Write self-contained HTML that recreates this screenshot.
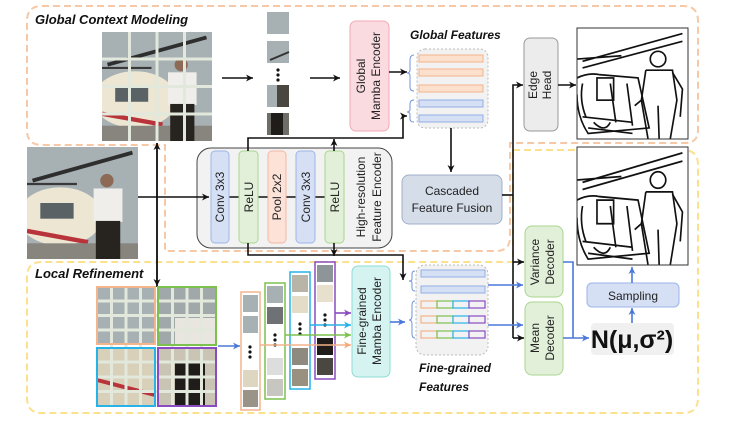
<!DOCTYPE html>
<html><head><meta charset="utf-8"><style>
html,body{margin:0;padding:0;background:#fff;}
svg{display:block;}
text{font-family:"Liberation Sans","DejaVu Sans",sans-serif;}
</style></head><body>
<svg width="747" height="421" viewBox="0 0 747 421" xmlns="http://www.w3.org/2000/svg">
<defs>
<pattern id="photo" patternUnits="objectBoundingBox" patternContentUnits="objectBoundingBox" width="1" height="1">
<rect width="1" height="1" fill="#a7b0b3"/>
<path d="M0.05,0.3 L0.95,0.05" stroke="#2e2e2e" stroke-width="0.035"/>
<path d="M0,0.33 L0.45,0.33" stroke="#3a3a3a" stroke-width="0.02"/>
<ellipse cx="0.3" cy="0.62" rx="0.38" ry="0.26" fill="#ece6d3"/>
<rect x="0.12" y="0.5" width="0.3" height="0.14" fill="#5a6265"/>
<path d="M0,0.75 L0.55,0.85" stroke="#b8333a" stroke-width="0.04"/>
<rect x="0" y="0.86" width="1" height="0.14" fill="#87857e"/>
<circle cx="0.72" cy="0.3" r="0.06" fill="#8c6a55"/>
<rect x="0.6" y="0.37" width="0.26" height="0.3" fill="#efeeea"/>
<rect x="0.62" y="0.66" width="0.22" height="0.34" fill="#27231f"/>
</pattern>
<pattern id="edge" patternUnits="objectBoundingBox" patternContentUnits="objectBoundingBox" width="1" height="1">
<rect width="1" height="1" fill="#fff"/>
<g fill="none" stroke="#111" stroke-width="0.015">
<path d="M0.05,0.3 L0.95,0.05 M0.05,0.36 L0.95,0.12 M0,0.28 L0.4,0.25"/>
<path d="M0,0.45 Q0.1,0.4 0.2,0.42 L0.55,0.45 L0.65,0.9 L0.1,0.95 Q0,0.8 0,0.6"/>
<path d="M0.05,0.5 Q0.02,0.65 0.08,0.8 M0.3,0.5 L0.35,0.85 M0.45,0.5 L0.5,0.88"/>
<rect x="0.18" y="0.45" width="0.15" height="0.2"/>
<circle cx="0.73" cy="0.28" r="0.07"/>
<path d="M0.62,0.38 L0.86,0.38 L0.9,0.65 L0.84,1 M0.62,0.38 L0.58,0.65 L0.64,1 M0.73,0.7 L0.74,1"/>
<path d="M0.86,0.4 L0.95,0.55 L0.93,0.8 M0.58,0.65 L0.52,0.7"/>
<path d="M0.05,0.8 L0.5,0.85 M0.1,0.9 L0.5,0.95 M0.15,0.85 Q0.25,0.95 0.3,0.85"/>
</g>
</pattern>
<marker id="ab" markerWidth="8" markerHeight="8" refX="7" refY="4" orient="auto" markerUnits="userSpaceOnUse"><path d="M0,0.5 L7,4 L0,7.5 L2,4z" fill="#111"/></marker>
<marker id="abl" markerWidth="8" markerHeight="8" refX="7" refY="4" orient="auto" markerUnits="userSpaceOnUse"><path d="M0,0.5 L7,4 L0,7.5 L2,4z" fill="#4a78d8"/></marker>
<marker id="ao" markerWidth="8" markerHeight="8" refX="7" refY="4" orient="auto" markerUnits="userSpaceOnUse"><path d="M0,0.5 L7,4 L0,7.5 L2,4z" fill="#f4a97a"/></marker>
<marker id="ag" markerWidth="8" markerHeight="8" refX="7" refY="4" orient="auto" markerUnits="userSpaceOnUse"><path d="M0,0.5 L7,4 L0,7.5 L2,4z" fill="#7cc04e"/></marker>
<marker id="ac" markerWidth="8" markerHeight="8" refX="7" refY="4" orient="auto" markerUnits="userSpaceOnUse"><path d="M0,0.5 L7,4 L0,7.5 L2,4z" fill="#27b2e8"/></marker>
<marker id="ap" markerWidth="8" markerHeight="8" refX="7" refY="4" orient="auto" markerUnits="userSpaceOnUse"><path d="M0,0.5 L7,4 L0,7.5 L2,4z" fill="#8a4bc0"/></marker>
</defs>

<path d="M42,6 H683 Q698,6 698,21 V130 Q698,143 685,143 H510 V237 Q510,251 496,251 H165 V145 H42 Q27,145 27,130 V21 Q27,6 42,6Z" fill="none" stroke="#f7c8a6" stroke-width="2" stroke-dasharray="7,4"/>
<path d="M513,150 H683 Q698,150 698,165 V398 Q698,413 683,413 H42 Q27,413 27,398 V277 Q27,262 42,262 H513Z" fill="none" stroke="#fbe18c" stroke-width="2" stroke-dasharray="7,4"/>

<text x="35" y="24" font-size="13" font-weight="bold" font-style="italic" fill="#111">Global Context Modeling</text>
<text x="35" y="278" font-size="13" font-weight="bold" font-style="italic" fill="#111">Local Refinement</text>

<rect x="27" y="147" width="111" height="112" fill="url(#photo)"/>
<rect x="102" y="32" width="110" height="109" fill="url(#photo)"/>
<g stroke="#e2e8dc" stroke-width="3">
<line x1="129.5" y1="32" x2="129.5" y2="141"/><line x1="157" y1="32" x2="157" y2="141"/><line x1="184.5" y1="32" x2="184.5" y2="141"/>
<line x1="102" y1="59" x2="212" y2="59"/><line x1="102" y1="86.5" x2="212" y2="86.5"/><line x1="102" y1="114" x2="212" y2="114"/>
</g>
<line x1="222" y1="78" x2="253" y2="78" stroke="#111" stroke-width="1.6" marker-end="url(#ab)"/>
<rect x="267" y="12" width="22" height="22" fill="#a7b0b3"/>
<rect x="267" y="41" width="22" height="22" fill="#a7b0b3"/><path d="M270,60 L289,52" stroke="#333" stroke-width="2"/>
<g fill="#111"><circle cx="278" cy="70" r="1.6"/><circle cx="278" cy="75" r="1.6"/><circle cx="278" cy="80" r="1.6"/></g>
<rect x="267" y="85" width="22" height="22" fill="#4a4640"/><rect x="267" y="85" width="10" height="22" fill="#a7b0b3"/>
<rect x="267" y="113" width="22" height="22" fill="#6f6d68"/><rect x="271" y="113" width="12" height="22" fill="#1f1c19"/>
<line x1="310" y1="78" x2="340" y2="78" stroke="#111" stroke-width="1.6" marker-end="url(#ab)"/>

<rect x="350" y="21" width="39" height="110" rx="6" fill="#fadbe0" stroke="#f2aab6"/>
<text transform="translate(365,76) rotate(-90)" text-anchor="middle" font-size="12" fill="#222">Global</text>
<text transform="translate(380,76) rotate(-90)" text-anchor="middle" font-size="12" fill="#222">Mamba Encoder</text>
<line x1="389" y1="72" x2="407" y2="72" stroke="#111" stroke-width="1.6" marker-end="url(#ab)"/>

<text x="410" y="39" font-size="12" font-weight="bold" font-style="italic" fill="#111">Global Features</text>
<rect x="417" y="49" width="71" height="79" rx="8" fill="#f2f2f2" stroke="#bbb" stroke-dasharray="2,2"/>
<g fill="#fbe0cd" stroke="#f4b48c"><rect x="419" y="55" width="64" height="7"/><rect x="419" y="69" width="64" height="7"/><rect x="419" y="85" width="64" height="7"/></g>
<g fill="#d6e0f5" stroke="#92aee6"><rect x="419" y="100" width="64" height="7"/><rect x="419" y="115" width="64" height="7"/></g>
<path d="M414,55 Q410,55 410,60 V70 Q410,73 407,73 Q410,73 410,76 V87 Q410,91 414,91" fill="none" stroke="#6f93db" stroke-width="1"/>
<path d="M414,100 Q410,100 410,104 V109 Q410,112 407,112 Q410,112 410,115 V119 Q410,122 414,122" fill="none" stroke="#6f93db" stroke-width="1"/>
<line x1="451" y1="128" x2="451" y2="172" stroke="#111" stroke-width="1.6" marker-end="url(#ab)"/>

<rect x="524" y="38" width="34" height="93" rx="6" fill="#ececec" stroke="#999"/>
<text transform="translate(537,85) rotate(-90)" text-anchor="middle" font-size="12" fill="#222">Edge</text>
<text transform="translate(551,85) rotate(-90)" text-anchor="middle" font-size="12" fill="#222">Head</text>
<line x1="558" y1="85" x2="576" y2="85" stroke="#111" stroke-width="1.6" marker-end="url(#ab)"/>
<rect x="577" y="28" width="111" height="111" fill="url(#edge)" stroke="#333"/>
<rect x="577" y="147" width="111" height="118" fill="url(#edge)" stroke="#333"/>

<rect x="402" y="175" width="100" height="49" rx="7" fill="#d5dde9" stroke="#9fb0c8"/>
<text x="452" y="195" text-anchor="middle" font-size="12" fill="#222">Cascaded</text>
<text x="452" y="212" text-anchor="middle" font-size="12" fill="#222">Feature Fusion</text>
<path d="M502,195 H513" stroke="#111" stroke-width="1.6" fill="none"/>
<path d="M513,338 V85 H523" stroke="#111" stroke-width="1.6" fill="none" marker-end="url(#ab)"/>
<line x1="513" y1="262" x2="524" y2="262" stroke="#111" stroke-width="1.6" marker-end="url(#ab)"/>
<line x1="513" y1="338" x2="524" y2="338" stroke="#111" stroke-width="1.6" marker-end="url(#ab)"/>

<rect x="197" y="148" width="195" height="100" rx="14" fill="#f2f2f2" stroke="#444"/>
<line x1="138" y1="197" x2="209" y2="197" stroke="#111" stroke-width="1.6" marker-end="url(#ab)"/>
<line x1="211" y1="197" x2="344" y2="197" stroke="#111" stroke-width="1.4"/>
<g font-size="12" fill="#222" text-anchor="middle">
<rect x="211" y="151" width="18" height="92" rx="4" fill="#d6e0f5" stroke="#9db5e8"/>
<text transform="translate(224,197) rotate(-90)">Conv 3x3</text>
<rect x="239" y="151" width="19" height="92" rx="4" fill="#e2f0d9" stroke="#a9d68f"/>
<text transform="translate(253,197) rotate(-90)">ReLU</text>
<rect x="268" y="151" width="18" height="92" rx="4" fill="#fde2d8" stroke="#f4b8a4"/>
<text transform="translate(281,197) rotate(-90)">Pool 2x2</text>
<rect x="296" y="151" width="19" height="92" rx="4" fill="#d6e0f5" stroke="#9db5e8"/>
<text transform="translate(310,197) rotate(-90)">Conv 3x3</text>
<rect x="325" y="151" width="19" height="92" rx="4" fill="#e2f0d9" stroke="#a9d68f"/>
<text transform="translate(339,197) rotate(-90)">ReLU</text>
<text transform="translate(365,197) rotate(-90)">High-resolution</text>
<text transform="translate(381,197) rotate(-90)">Feature Encoder</text>
</g>
<path d="M248,151 V138 H403 V116 H407" fill="none" stroke="#111" stroke-width="1.6" marker-end="url(#ab)"/>
<line x1="334" y1="151" x2="334" y2="139" stroke="#111" stroke-width="1.6" marker-end="url(#ab)"/>
<path d="M248,243 V255 H403 V280" fill="none" stroke="#111" stroke-width="1.6" marker-end="url(#ab)"/>
<line x1="334" y1="243" x2="334" y2="256" stroke="#111" stroke-width="1.6" marker-end="url(#ab)"/>
<line x1="157" y1="287" x2="157" y2="143" stroke="#111" stroke-width="1.6" marker-end="url(#ab)"/>
<line x1="157" y1="143" x2="157" y2="286" stroke="#111" stroke-width="1.6" marker-end="url(#ab)"/>

<rect x="97" y="287" width="58" height="57" fill="#a7b0b3"/>
<rect x="158" y="287" width="58" height="58" fill="#a0a8aa"/><rect x="175" y="318" width="41" height="27" fill="#e8e6de"/>
<rect x="97" y="348" width="58" height="58" fill="#d8d0b8"/><path d="M97,380 L155,395" stroke="#b8333a" stroke-width="4"/>
<rect x="158" y="348" width="58" height="58" fill="#c9c4b4"/><rect x="175" y="362" width="30" height="44" fill="#1f1c19"/>
<g stroke="#e2e8dc" stroke-width="3">
<path d="M111.5,287V406M126,287V406M140.5,287V406M172.5,287V406M187,287V406M201.5,287V406"/>
<path d="M97,301H216M97,315.5H216M97,330H216M97,362H216M97,377H216M97,391.5H216"/>
</g>
<rect x="97" y="287" width="58" height="57" fill="none" stroke="#f4b48c" stroke-width="2"/>
<rect x="158" y="287" width="58" height="58" fill="none" stroke="#7cc04e" stroke-width="2"/>
<rect x="97" y="348" width="58" height="58" fill="none" stroke="#27b2e8" stroke-width="2"/>
<rect x="158" y="348" width="58" height="58" fill="none" stroke="#8a4bc0" stroke-width="2"/>
<line x1="218" y1="346" x2="240" y2="346" stroke="#4a78d8" stroke-width="1.6" marker-end="url(#abl)"/>

<rect x="241" y="292" width="19" height="118" fill="#fff" stroke="#f4b48c" stroke-width="1.5"/>
<rect x="243" y="295" width="15" height="17" fill="#a7b0b3"/><rect x="243" y="316" width="15" height="17" fill="#a7b0b3"/>
<rect x="243" y="370" width="15" height="17" fill="#ddd6c0"/><rect x="243" y="390" width="15" height="17" fill="#9a9488"/>
<rect x="265" y="283" width="20" height="116" fill="#fff" stroke="#7cc04e" stroke-width="1.5"/>
<rect x="267" y="286" width="16" height="17" fill="#a7b0b3"/><rect x="267" y="307" width="16" height="17" fill="#6f7275"/>
<rect x="267" y="358" width="16" height="17" fill="#ddd"/><rect x="267" y="379" width="16" height="17" fill="#c8c6c0"/>
<rect x="290" y="272" width="20" height="117" fill="#fff" stroke="#27b2e8" stroke-width="1.5"/>
<rect x="292" y="275" width="16" height="17" fill="#b8b4a8"/><rect x="292" y="296" width="16" height="17" fill="#e3dcc6"/>
<rect x="292" y="348" width="16" height="17" fill="#8f8a80"/><rect x="292" y="369" width="16" height="17" fill="#9a9080"/>
<rect x="315" y="262" width="20" height="117" fill="#fff" stroke="#8a4bc0" stroke-width="1.5"/>
<rect x="317" y="265" width="16" height="17" fill="#8d9598"/><rect x="317" y="285" width="16" height="17" fill="#e6e0cc"/>
<rect x="317" y="338" width="16" height="17" fill="#1f1c19"/><rect x="317" y="358" width="16" height="17" fill="#4a4640"/>
<g fill="#111">
<circle cx="250" cy="347" r="1.6"/><circle cx="250" cy="352" r="1.6"/><circle cx="250" cy="357" r="1.6"/>
<circle cx="275" cy="335" r="1.6"/><circle cx="275" cy="340" r="1.6"/><circle cx="275" cy="345" r="1.6"/>
<circle cx="300" cy="324" r="1.6"/><circle cx="300" cy="329" r="1.6"/><circle cx="300" cy="334" r="1.6"/>
<circle cx="325" cy="315" r="1.6"/><circle cx="325" cy="320" r="1.6"/><circle cx="325" cy="325" r="1.6"/>
</g>
<line x1="335" y1="313" x2="351" y2="313" stroke="#8a4bc0" stroke-width="1.6" marker-end="url(#ap)"/>
<line x1="310" y1="325" x2="351" y2="325" stroke="#27b2e8" stroke-width="1.6" marker-end="url(#ac)"/>
<line x1="285" y1="335" x2="351" y2="335" stroke="#7cc04e" stroke-width="1.6" marker-end="url(#ag)"/>
<line x1="260" y1="345" x2="351" y2="345" stroke="#f4b48c" stroke-width="1.6" marker-end="url(#ao)"/>

<rect x="352" y="266" width="38" height="111" rx="6" fill="#d4f3f1" stroke="#8fdcd5"/>
<text transform="translate(366,321) rotate(-90)" text-anchor="middle" font-size="12" fill="#222">Fine-grained</text>
<text transform="translate(381,321) rotate(-90)" text-anchor="middle" font-size="12" fill="#222">Mamba Encoder</text>
<line x1="390" y1="322" x2="405" y2="322" stroke="#4a78d8" stroke-width="1.6" marker-end="url(#abl)"/>

<rect x="416" y="265" width="72" height="90" rx="9" fill="#f2f2f2" stroke="#bbb" stroke-dasharray="2,2"/>
<g fill="#d6e0f5" stroke="#92aee6"><rect x="421" y="270" width="64" height="7"/><rect x="421" y="286" width="64" height="7"/></g>
<g fill="#f2f2f2" stroke-width="1.2">
<g><rect x="421" y="301" width="16" height="7" stroke="#f4b48c"/><rect x="437" y="301" width="16" height="7" stroke="#7cc04e"/><rect x="453" y="301" width="16" height="7" stroke="#27b2e8"/><rect x="469" y="301" width="16" height="7" stroke="#8a4bc0"/></g>
<g><rect x="421" y="316" width="16" height="7" stroke="#f4b48c"/><rect x="437" y="316" width="16" height="7" stroke="#7cc04e"/><rect x="453" y="316" width="16" height="7" stroke="#27b2e8"/><rect x="469" y="316" width="16" height="7" stroke="#8a4bc0"/></g>
<g><rect x="421" y="331" width="16" height="7" stroke="#f4b48c"/><rect x="437" y="331" width="16" height="7" stroke="#7cc04e"/><rect x="453" y="331" width="16" height="7" stroke="#27b2e8"/><rect x="469" y="331" width="16" height="7" stroke="#8a4bc0"/></g>
</g>
<path d="M415,271 Q412,271 412,274 V279 Q412,281 409,281 Q412,281 412,283 V288 Q412,291 415,291" fill="none" stroke="#6f93db"/>
<path d="M415,301 Q412,301 412,305 V316 Q412,320 409,320 Q412,320 412,324 V334 Q412,338 415,338" fill="none" stroke="#6f93db"/>
<text x="419" y="372" font-size="12" font-weight="bold" font-style="italic" fill="#111">Fine-grained</text>
<text x="419" y="391" font-size="12" font-weight="bold" font-style="italic" fill="#111">Features</text>
<line x1="488" y1="285" x2="523" y2="285" stroke="#4a78d8" stroke-width="1.6" marker-end="url(#abl)"/>
<line x1="488" y1="325" x2="523" y2="325" stroke="#4a78d8" stroke-width="1.6" marker-end="url(#abl)"/>

<rect x="525" y="226" width="38" height="71" rx="7" fill="#e2f0d9" stroke="#a9d68f"/>
<text transform="translate(539,262) rotate(-90)" text-anchor="middle" font-size="12" fill="#222">Variance</text>
<text transform="translate(554,262) rotate(-90)" text-anchor="middle" font-size="12" fill="#222">Decoder</text>
<rect x="525" y="302" width="38" height="73" rx="7" fill="#e2f0d9" stroke="#a9d68f"/>
<text transform="translate(539,338) rotate(-90)" text-anchor="middle" font-size="12" fill="#222">Mean</text>
<text transform="translate(554,338) rotate(-90)" text-anchor="middle" font-size="12" fill="#222">Decoder</text>
<path d="M563,262 H573 V338" fill="none" stroke="#4a78d8" stroke-width="1.6"/>
<line x1="563" y1="338" x2="589" y2="338" stroke="#4a78d8" stroke-width="1.6" marker-end="url(#abl)"/>

<rect x="591" y="323" width="83" height="32" rx="4" fill="#f0f0f0"/>
<text x="632" y="348" text-anchor="middle" font-size="25" font-weight="bold" fill="#111">N(μ,σ²)</text>
<rect x="587" y="283" width="92" height="24" rx="5" fill="#d6e0f5" stroke="#9db5e8"/>
<text x="633" y="300" text-anchor="middle" font-size="12" fill="#222">Sampling</text>
<line x1="632" y1="323" x2="632" y2="308" stroke="#4a78d8" stroke-width="1.6" marker-end="url(#abl)"/>
<line x1="632" y1="283" x2="632" y2="267" stroke="#4a78d8" stroke-width="1.6" marker-end="url(#abl)"/>
</svg>
</body></html>
